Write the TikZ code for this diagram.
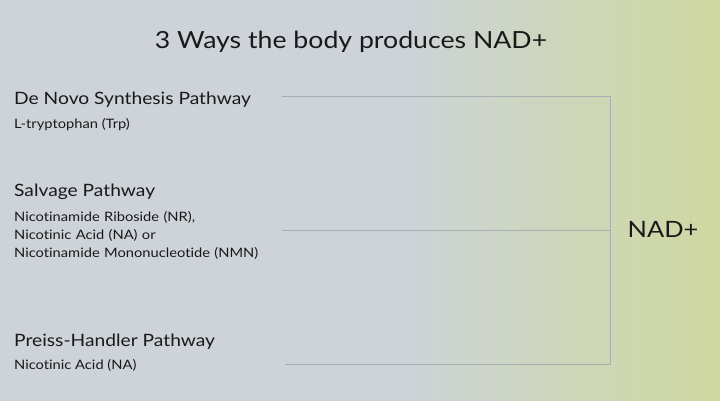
\documentclass[tikz,border=0pt]{standalone}
\usepackage{fontspec}
\setmainfont[FakeStretch=1.13,Ligatures={NoCommon}]{Lato}
\definecolor{bgleft}{RGB}{205,211,216}
\definecolor{bgright}{RGB}{206,216,158}
\definecolor{linec}{RGB}{168,174,178}
\definecolor{txt}{RGB}{25,25,25}
\begin{document}
\begin{tikzpicture}[x=1pt,y=-1pt,
  head/.style={anchor=base west,inner sep=0pt,font=\fontsize{17}{20}\selectfont,text=txt},
  sub/.style={anchor=base west,inner sep=0pt,font=\fontsize{13}{18}\selectfont,text=txt,align=left},
  conn/.style={draw=linec,line width=0.9pt}]
\useasboundingbox (0,0) rectangle (720,400);
\fill[bgleft] (-5,-5) rectangle (725,405);
\shade[left color=bgleft,right color=bgright,shading angle=90] (398,-5) rectangle (725,405);
\node[anchor=base,inner sep=0pt,font=\fontsize{23.6}{28}\selectfont,text=txt] (title) at (351,48) {3 Ways the body produces NAD+};
\node[head] (h1) at (14,104) {De Novo Synthesis Pathway};
\node[sub] (s1) at (14,128) {L-tryptophan (Trp)};
\node[head] (h2) at (14,196) {Salvage Pathway};
\node[sub,text width=300pt] (s2) at (14,221) {Nicotinamide Riboside (NR),\\Nicotinic Acid (NA) or\\Nicotinamide Mononucleotide (NMN)};
\node[head] (h3) at (14,346) {Preiss-Handler Pathway};
\node[sub] (s3) at (14,369) {Nicotinic Acid (NA)};
\node[anchor=base,inner sep=0pt,font=\fontsize{22.5}{28}\selectfont,text=txt] (nad) at (663,237) {NAD+};
\coordinate (a1) at (282,96);
\coordinate (a2) at (282,230);
\coordinate (a3) at (285,364);
\coordinate (c1) at (610,96);
\coordinate (c2) at (610,230);
\coordinate (c3) at (610,364);
\draw[conn] (a1) -- (c1) -- (c3) -- (a3);
\draw[conn] (a2) -- (c2);
\end{tikzpicture}
\end{document}
